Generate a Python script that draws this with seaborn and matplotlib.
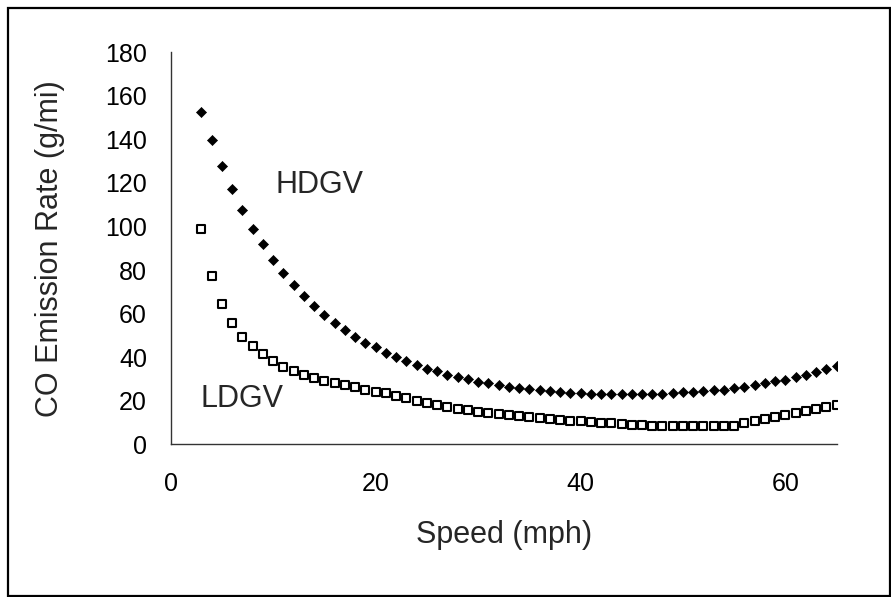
import numpy as np
import pandas as pd
import matplotlib
matplotlib.use("Agg")
import matplotlib.pyplot as plt
import seaborn as sns
from matplotlib.patches import Rectangle

# speeds 3..65 mph, one point per mph
speed = list(range(3, 66))

hdgv = [152.5, 139.5, 127.6, 117.2, 107.4, 99.0, 92.0, 84.8, 78.7, 73.0,
        68.1, 63.6, 59.3, 55.8, 52.4, 49.4, 46.6, 44.5, 42.1, 40.1,
        38.1, 36.3, 34.7, 33.5, 32.0, 30.9, 29.8, 28.8, 28.0, 27.2,
        26.5, 25.9, 25.3, 24.8, 24.3, 23.9, 23.6, 23.4, 23.3, 23.1,
        23.0, 23.0, 23.0, 23.0, 23.1, 23.3, 23.6, 23.9, 24.2, 24.4,
        24.7, 25.1, 25.7, 26.5, 27.1, 28.0, 28.9, 29.7, 30.8, 32.0,
        33.2, 34.6, 36.1]

ldgv = [98.7, 77.2, 64.2, 55.5, 49.4, 45.1, 41.3, 38.2, 35.6, 33.6,
        31.9, 30.3, 29.2, 28.3, 27.2, 26.1, 24.9, 24.1, 23.6, 22.3,
        21.1, 20.1, 19.1, 18.1, 17.1, 16.4, 15.6, 14.8, 14.2, 13.8,
        13.3, 12.9, 12.4, 11.9, 11.6, 11.3, 10.9, 10.6, 10.3, 9.9,
        9.6, 9.3, 9.0, 8.9, 8.6, 8.4, 8.4, 8.4, 8.4, 8.4,
        8.4, 8.4, 8.4, 9.6, 10.5, 11.6, 12.5, 13.6, 14.4, 15.3,
        16.1, 17.0, 17.9]

x_ticks = [0, 20, 40, 60]
y_ticks = list(range(0, 181, 20))

df = pd.DataFrame({"Speed": speed, "HDGV": hdgv, "LDGV": ldgv})

sns.set_style("white")
plt.rcParams["font.family"] = ["Liberation Sans", "DejaVu Sans"]

fig = plt.figure(figsize=(8.91, 5.97), dpi=100)
ax = fig.add_axes([0.1916, 0.2558, 0.939 - 0.1916, 0.9124 - 0.2558])

sns.scatterplot(data=df, x="Speed", y="HDGV", ax=ax, marker="D", s=26,
                color="black", edgecolor="black", linewidth=0.5)
sns.scatterplot(data=df, x="Speed", y="LDGV", ax=ax, marker="s", s=32,
                facecolor="white", edgecolor="black", linewidth=1.5)

ax.set_xlim(0, 65)
ax.set_ylim(0, 180)
ax.set_xticks(x_ticks)
ax.set_yticks(y_ticks)
ax.tick_params(axis="both", direction="out", length=5, width=1, color="#333333",
               labelsize=18, labelcolor="black")
ax.tick_params(axis="y", pad=12)
ax.tick_params(axis="x", pad=15)

for side in ["top", "right"]:
    ax.spines[side].set_visible(False)
for side in ["left", "bottom"]:
    ax.spines[side].set_color("#333333")
    ax.spines[side].set_linewidth(1)

ax.set_xlabel("Speed (mph)", fontsize=22)
ax.set_ylabel("CO Emission Rate (g/mi)", fontsize=22)
ax.xaxis.label.set_va("center")
ax.yaxis.label.set_va("center")
ax.xaxis.set_label_coords(0.5, -0.231)
ax.yaxis.set_label_coords(-0.181, 0.5)

ax.text(10.2, 119, "HDGV", fontsize=22, ha="left", va="center")
ax.text(2.9, 20.8, "LDGV", fontsize=22, ha="left", va="center")

# chart frame
fig.patches.append(Rectangle((8 / 891, 1 / 597), 882 / 891, 588 / 597,
                             transform=fig.transFigure, fill=False,
                             edgecolor="black", linewidth=1.6))

fig.savefig("out.png", dpi=100)
